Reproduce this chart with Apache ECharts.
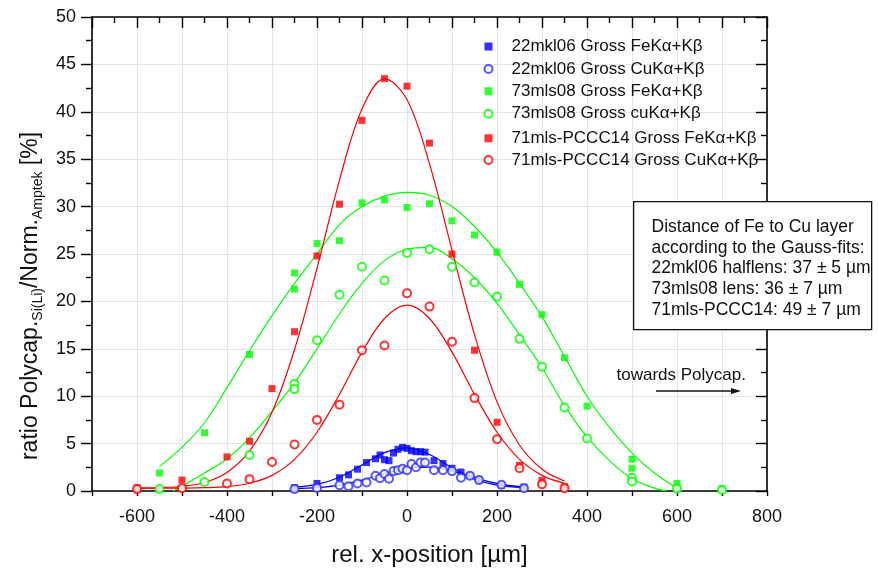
<!DOCTYPE html>
<html><head><meta charset="utf-8">
<script src="https://cdn.jsdelivr.net/npm/echarts@6/dist/echarts.min.js"></script>
<style>html,body{margin:0;padding:0;background:#fff}#c{width:878px;height:572px}</style>
</head><body><div id="c"></div>
<script>
// ---------- data ----------
const seriesNames = [
  '22mkl06 Gross FeKα+Kβ', '22mkl06 Gross CuKα+Kβ',
  '73mls08 Gross FeKα+Kβ', '73mls08 Gross cuKα+Kβ',
  '71mls-PCCC14 Gross FeKα+Kβ', '71mls-PCCC14 Gross CuKα+Kβ'
];
const blueX    = [-250,-200,-150,-130,-110,-90,-70,-60,-50,-40,-30,-20,-10,0,10,20,30,40,60,80,100,120,140,160,210,260];
const blueFeY  = [0.35,0.8,1.4,1.7,2.3,3.0,3.4,3.8,3.3,3.2,4.0,4.4,4.6,4.5,4.25,4.15,4.15,4.1,3.2,2.9,2.4,2.0,1.6,1.2,0.6,0.4];
const blueCuY  = [0.2,0.32,0.6,0.5,0.8,0.9,1.6,1.35,1.8,1.3,2.1,2.2,2.35,2.2,2.85,2.5,3.0,3.0,2.2,2.2,2.1,1.4,1.6,1.15,0.65,0.3];

const greenX   = [-550,-450,-350,-250,-250,-200,-150,-100,-50,0,50,100,150,200,250,300,350,400,500,500,600,700];
const greenFeY = [1.9,6.15,14.4,21.3,23.0,26.1,26.4,30.4,30.7,29.9,30.3,28.5,27.0,25.2,21.8,18.6,14.05,8.95,3.35,2.4,0.8,0.25];
const greenCuY = [0.2,0.95,3.8,11.3,10.75,15.9,20.7,23.65,22.2,25.1,25.5,23.65,22.0,20.5,16.05,13.1,8.8,5.55,1.4,1.0,0.25,0.1];

const redX     = [-600,-500,-400,-350,-300,-250,-200,-150,-100,-50,0,50,100,150,200,250,300,350];
const redFeY   = [0.35,1.15,3.6,5.25,10.8,16.8,24.8,30.25,39.1,43.5,42.7,36.7,25.0,14.85,7.25,2.7,1.1,0.45];
const redCuY   = [0.2,0.3,0.8,1.25,3.05,4.9,7.5,9.1,14.85,15.35,20.85,19.45,15.75,9.8,5.45,2.4,0.7,0.3];

// Gauss-fit curves
const blueFitX   = [-250,-200,-150,-100,-50,0,50,100,150,200,260];
const blueFeFitY = [0.4,0.7,1.45,2.75,4.05,4.55,3.85,2.45,1.25,0.62,0.37];
const blueCuFitY = [0.24,0.35,0.62,1.14,1.84,2.41,2.52,2.1,1.41,0.8,0.39];

const greenFeFitX = [-550,-500,-450,-400,-350,-300,-250,-200,-150,-100,-50,0,50,100,150,200,250,300,350,400,450,500,550,600,612];
const greenFeFitY = [2.6,4.6,7.2,10.9,14.8,18.5,21.9,25.0,28.1,30.0,31.1,31.5,31.2,30.0,27.9,25.2,21.9,18.4,14.2,10.0,6.7,4.0,1.9,0.3,0];
const greenCuFitX = [-520,-500,-450,-400,-350,-300,-250,-200,-150,-100,-50,0,50,100,150,200,250,300,350,400,450,500,550,578];
const greenCuFitY = [0,0.5,1.9,3.4,5.6,8.4,11.4,15.0,18.7,21.9,24.3,25.5,25.7,24.5,22.5,19.8,16.5,13.0,9.0,5.7,3.2,1.3,0.3,0];

const redFitX   = [-600,-550,-500,-450,-400,-350,-300,-250,-200,-150,-100,-50,0,50,100,150,200,250,300,350];
const redFeFitY = [0.3,0.36,0.5,0.9,1.95,4.2,8.3,14.9,23.5,32.8,40.3,43.5,41.3,34.5,25.4,16.5,9.4,4.85,2.3,1.05];
const redCuFitY = [0.3,0.3,0.31,0.35,0.47,0.82,1.65,3.34,6.2,10.2,14.65,18.2,19.6,18.2,14.65,10.2,6.2,3.34,1.65,0.82];

const xMin = -700, xMax = 800, xStep = 100, xLabelStep = 200;
const yMin = 0, yMax = 50, yStep = 5;

const boxLines = [
  'Distance of Fe to Cu layer',
  'according to the Gauss-fits:',
  '22mkl06 halflens: 37 ± 5 µm',
  '73mls08 lens: 36 ± 7 µm',
  '71mls-PCCC14: 49 ± 7 µm'
];
const arrowText = 'towards Polycap.';

// ---------- chart ----------
const FONT = 'Liberation Sans, Arial, Helvetica, sans-serif';
const BLUE = '#0000ff', GREEN = '#00ff00', RED = '#ff0000';
const INK = '#111';
const pts = (xs, ys) => xs.map((x, i) => [x, ys[i]]);

function scatter(name, sym, color, xs, ys, size) {
  return {
    name, type: 'scatter', symbol: sym, symbolSize: size,
    itemStyle: sym === 'rect' ? { color } : { color, borderWidth: 1 },
    data: pts(xs, ys), z: 4, silent: true
  };
}
function fit(color, xs, ys) {
  return {
    name: 'fit', type: 'line', smooth: 0.35, showSymbol: false, symbol: 'none',
    lineStyle: { color, width: 1.2 }, data: pts(xs, ys), z: 3, silent: true
  };
}

const chart = echarts.init(document.getElementById('c'), null, { renderer: 'canvas' });

const axisLine = { show: true, onZero: false, lineStyle: { color: '#000', width: 1.6 } };
const legendCommon = {
  orient: 'vertical', left: 483.5, itemWidth: 8, itemHeight: 8, padding: 0,
  selectedMode: false,
  textStyle: { fontSize: 17, fontFamily: FONT, color: INK, lineHeight: 18, padding: [0, 0, 0, 14] }
};

chart.setOption({
  animation: false,
  backgroundColor: '#fff',
  grid: { left: 92, right: 111, top: 17, bottom: 81, containLabel: false },
  xAxis: [
    {
      type: 'value', min: xMin, max: xMax, interval: xStep, position: 'bottom',
      axisLine,
      axisTick: { show: true, inside: false, length: 5, lineStyle: { color: '#000', width: 1.4 } },
      axisLabel: {
        margin: 17, fontSize: 18, fontFamily: FONT, color: INK,
        formatter: v => (v % xLabelStep === 0 ? String(v) : '')
      },
      splitLine: { show: true, lineStyle: { color: '#e4e4e4', width: 1 } },
      name: 'rel. x-position [µm]', nameLocation: 'middle', nameGap: 52,
      nameTextStyle: { fontSize: 24, fontFamily: FONT, color: INK }
    },
    {
      type: 'value', min: xMin, max: xMax, interval: xStep, position: 'top',
      axisLine,
      axisTick: { show: true, inside: true, length: 11, lineStyle: { color: '#000', width: 1.4 } },
      minorTick: { show: true, splitNumber: 2, length: 6, lineStyle: { color: '#000', width: 1.4 } },
      axisLabel: { show: false }, splitLine: { show: false }
    }
  ],
  yAxis: [
    {
      type: 'value', min: yMin, max: yMax, interval: yStep, position: 'left',
      axisLine,
      axisTick: { show: true, inside: false, length: 11, lineStyle: { color: '#000', width: 1.4 } },
      minorTick: { show: true, splitNumber: 2, length: 6, lineStyle: { color: '#000', width: 1.4 } },
      axisLabel: { margin: 16, fontSize: 18, fontFamily: FONT, color: INK },
      splitLine: { show: true, lineStyle: { color: '#e4e4e4', width: 1 } },
      name: '{n|ratio Polycap.}{s|Si(Li)}{n|/Norm.}{s|Amptek}{n| [%]}',
      nameLocation: 'middle', nameRotate: 90, nameGap: 43,
      nameTextStyle: {
        fontFamily: FONT, color: INK, padding: [0, 84, 0, 0],
        rich: {
          n: { fontSize: 23, fontFamily: FONT, color: INK, lineHeight: 28 },
          s: { fontSize: 14, fontFamily: FONT, color: INK, lineHeight: 12, verticalAlign: 'bottom' }
        }
      }
    },
    {
      type: 'value', min: yMin, max: yMax, interval: yStep, position: 'right',
      axisLine,
      axisTick: { show: true, inside: true, length: 11, lineStyle: { color: '#000', width: 1.4 } },
      minorTick: { show: true, splitNumber: 2, length: 6, lineStyle: { color: '#000', width: 1.4 } },
      axisLabel: { show: false }, splitLine: { show: false }
    }
  ],
  legend: [
    Object.assign({}, legendCommon, { top: 37.5, itemGap: 4.4, data: seriesNames.slice(0, 4) }),
    Object.assign({}, legendCommon, { top: 129.3, itemGap: 3.7, data: seriesNames.slice(4) })
  ],
  series: [
    fit(BLUE, blueFitX, blueFeFitY),
    fit(BLUE, blueFitX, blueCuFitY),
    fit(GREEN, greenFeFitX, greenFeFitY),
    fit(GREEN, greenCuFitX, greenCuFitY),
    fit(RED, redFitX, redFeFitY),
    fit(RED, redFitX, redCuFitY),
    scatter(seriesNames[0], 'rect', BLUE, blueX, blueFeY, 7),
    scatter(seriesNames[1], 'emptyCircle', '#3030ff', blueX, blueCuY, 8),
    scatter(seriesNames[2], 'rect', GREEN, greenX, greenFeY, 7),
    scatter(seriesNames[3], 'emptyCircle', GREEN, greenX, greenCuY, 8),
    scatter(seriesNames[4], 'rect', RED, redX, redFeY, 7),
    scatter(seriesNames[5], 'emptyCircle', RED, redX, redCuY, 8)
  ],
  graphic: [
    {
      type: 'rect', left: 633, top: 201, z: 10,
      shape: { width: 238, height: 128 },
      style: { fill: '#fff', stroke: INK, lineWidth: 1.3 }
    },
    ...boxLines.map((t, i) => ({
      type: 'text', x: 651.5, y: 227 + i * 20.75, z: 11,
      style: { text: t, fontSize: 17.5, fontFamily: FONT, fill: INK, verticalAlign: 'middle', align: 'left' }
    })),
    {
      type: 'text', x: 616.5, y: 375, z: 11,
      style: { text: arrowText, fontSize: 17, fontFamily: FONT, fill: INK, verticalAlign: 'middle', align: 'left' }
    },
    {
      type: 'line', z: 11, shape: { x1: 656, y1: 391, x2: 733, y2: 391 },
      style: { stroke: INK, lineWidth: 1.3 }
    },
    {
      type: 'polygon', z: 11, shape: { points: [[741, 391], [731, 388], [731, 394]] },
      style: { fill: INK }
    }
  ]
});
</script>
</body></html>
